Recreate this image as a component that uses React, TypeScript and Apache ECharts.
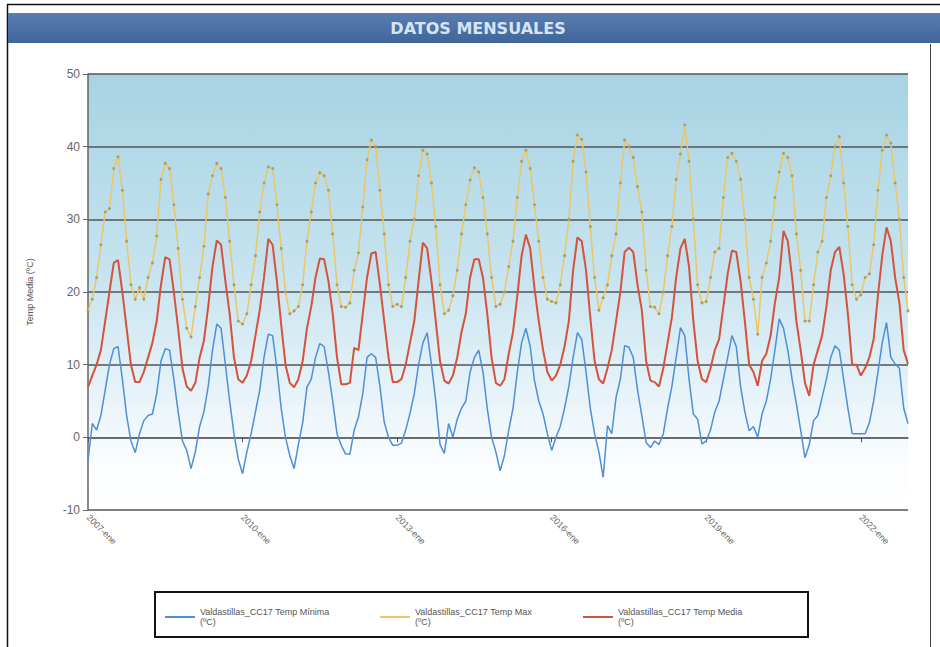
import React, { useEffect, useRef } from "react";
import * as echarts from "echarts";

// Meses y años del periodo mostrado (enero 2007 – diciembre 2022)
const MESES = ["ene", "feb", "mar", "abr", "may", "jun", "jul", "ago", "sep", "oct", "nov", "dic"];
const ANIOS = [2007, 2008, 2009, 2010, 2011, 2012, 2013, 2014, 2015, 2016, 2017, 2018, 2019, 2020, 2021, 2022];
const CATEGORIAS = ANIOS.flatMap((a) => MESES.map((m) => `${a}-${m}`));

const NOMBRE_MIN = "Valdastillas_CC17 Temp Mínima (ºC)";
const NOMBRE_MAX = "Valdastillas_CC17 Temp Max (ºC)";
const NOMBRE_MEDIA = "Valdastillas_CC17 Temp Media (ºC)";

// Temperatura máxima mensual (ºC), una fila por año
const TEMP_MAX = [
  17.4, 19, 22, 26.5, 31, 31.5, 37, 38.6, 34, 27, 21, 19,
  20.6, 19, 22, 24, 27.7, 35.5, 37.7, 37, 32, 26, 19, 15,
  13.8, 18, 22, 26.3, 33.5, 36, 37.7, 37, 33, 27, 21, 16,
  15.6, 17, 21, 25, 31, 35, 37.2, 37, 32, 26, 20, 17,
  17.4, 18, 21, 27, 31, 35, 36.4, 36, 34, 28, 21, 18,
  17.9, 18.5, 23, 25.4, 31.7, 38.2, 40.9, 40, 34, 28, 21, 18,
  18.3, 18, 22, 27, 30, 36, 39.5, 39, 35, 29, 21, 17,
  17.5, 19.5, 23, 28, 32, 35.4, 37.1, 36.5, 33, 28, 22, 18,
  18.3, 20, 23.5, 27, 33, 38, 39.5, 37, 32, 27, 22, 19,
  18.7, 18.5, 21, 25, 30, 38, 41.6, 41, 36.5, 29, 22, 17.5,
  19.2, 21, 25, 28, 35, 40.9, 40, 38.5, 34.5, 31, 23, 18,
  17.9, 17, 20, 25, 29, 35.5, 39, 43, 38, 30, 21, 18.5,
  18.7, 22, 25.5, 26, 33, 38.5, 39.1, 38, 35.5, 30, 22, 19,
  14.2, 22, 24, 27, 33, 36.5, 39.1, 38.5, 36, 28, 23, 16,
  16, 21, 25.5, 27, 33, 36, 40, 41.4, 35, 29, 21, 19,
  19.6, 22, 22.5, 26.5, 34, 39.5, 41.6, 40.5, 35, 30, 22, 17.4,
];

// Temperatura media mensual (ºC)
const TEMP_MEDIA = [
  6.9, 8.5, 10, 12, 16, 20, 24, 24.4, 20, 15, 10, 7.6,
  7.6, 9, 11, 13, 16, 21, 24.8, 24.5, 20, 15, 9.5, 7,
  6.4, 7.5, 11, 13.3, 18, 23.5, 27.1, 26.5, 21.5, 17, 11, 8,
  7.5, 8.5, 10.5, 14, 17.5, 22, 27.3, 26.5, 21.5, 15.5, 10, 7.5,
  6.9, 8, 10.5, 15, 18, 22, 24.6, 24.5, 21.5, 17, 11, 7.3,
  7.3, 7.5, 12.3, 12, 17, 22, 25.3, 25.5, 21, 16, 11, 7.6,
  7.6, 8, 10, 13, 16, 21.5, 26.8, 26, 21.5, 16, 10.5, 7.8,
  7.4, 8.5, 11, 14.5, 17, 22, 24.5, 24.5, 22, 17, 11, 7.5,
  7.1, 8, 11.5, 14.5, 19.5, 25, 27.9, 26, 20.5, 16, 12, 9,
  7.8, 8.5, 10, 12.5, 16, 23, 27.5, 27, 23, 16.5, 10.5, 8,
  7.4, 9.5, 12, 16, 20, 25.5, 26.1, 25.5, 21, 17.5, 10.5, 7.8,
  7.6, 7, 9.5, 13, 16.5, 22, 26, 27.3, 23.5, 16, 10.5, 8,
  7.6, 9.5, 12, 13.5, 18, 22.5, 25.7, 25.5, 21.5, 16, 10, 9,
  7.1, 10.5, 11.5, 14, 18.5, 22, 28.4, 27, 22, 16, 12, 7.5,
  5.7, 10, 12, 14, 18, 23, 25.5, 26.2, 22.5, 17, 10, 10,
  8.5, 9.5, 11, 13.5, 19.5, 25, 28.9, 27, 22, 18.5, 12, 10.1,
];

// Temperatura mínima mensual (ºC)
const TEMP_MIN = [
  -3.2, 1.9, 1.0, 3, 6.5, 10, 12.2, 12.5, 8, 3, -0.5, -2.1,
  0.5, 2.3, 3, 3.2, 6, 10.5, 12.2, 12, 8, 3.5, -0.5, -1.8,
  -4.3, -2, 1.5, 3.5, 7, 12, 15.6, 15, 10, 5, 0.5, -3,
  -5, -2, 0.5, 3.5, 6.5, 11, 14.2, 14, 9.5, 4, 0, -2.5,
  -4.3, -1, 2, 6.9, 8, 11, 12.9, 12.5, 9, 5, 0.5, -1.1,
  -2.3, -2.3, 1, 2.8, 6, 11, 11.5, 11, 7, 2.1, 0, -1.1,
  -1.1, -0.8, 1, 3.3, 6, 10, 13, 14.4, 10, 5, -1, -2.2,
  1.9, 0, 2.5, 4, 5, 9, 11, 12, 9, 4, 0, -2,
  -4.6, -2.5, 1, 4, 9, 13, 15, 12.5, 7.8, 5, 3.2, 0.5,
  -1.8, 0, 1.5, 4, 7, 11, 14.4, 13.5, 9, 4, 0.5, -2,
  -5.5, 1.6, 0.5, 5.5, 8, 12.6, 12.4, 11, 6.5, 3, -0.7, -1.4,
  -0.5, -1, 0.5, 4, 7, 11, 15.1, 14, 8, 3.2, 2.5, -0.9,
  -0.5, 1, 3.5, 5, 8, 11, 14, 12.5, 7, 3.5, 0.9, 1.5,
  0, 3.2, 5, 8, 12, 16.3, 15, 12, 8, 4.6, 1, -2.8,
  -1, 2.3, 3, 5.5, 8, 11, 12.6, 12, 8, 4, 0.5, 0.5,
  0.5, 0.5, 2, 5, 9, 13, 15.8, 11, 10.1, 9.5, 4, 1.9,
];

const COLOR_MIN = "#4f8fd6";
const COLOR_MAX = "#ecc664";
const COLOR_MEDIA = "#d5533a";

// Una etiqueta cada tres años, siempre en enero
const cadaTresAnios = (idx: number) => idx % 36 === 0;

const leyenda = (nombre: string, left: number, color: string) => ({
  data: [nombre],
  left,
  top: 602,
  orient: "horizontal",
  icon: "rect",
  itemWidth: 30,
  itemHeight: 2,
  itemGap: 4,
  itemStyle: { color },
  formatter: (n: string) => n.replace(" (ºC)", "\n(ºC)"),
  textStyle: { fontSize: 9, color: "#555", fontFamily: "Liberation Sans, Arial", lineHeight: 10 },
});

export default function App() {
  const ref = useRef<HTMLDivElement>(null);

  useEffect(() => {
    if (!ref.current) return;
    const chart = echarts.init(ref.current, undefined, { renderer: "svg" });
    chart.setOption({
      animation: false,
      backgroundColor: "#ffffff",
      textStyle: { fontFamily: "Liberation Sans, Arial, sans-serif" },
      graphic: [
        { type: "line", shape: { x1: 7, y1: 4.5, x2: 940, y2: 4.5 }, style: { stroke: "#111", lineWidth: 1.5 } },
        { type: "line", shape: { x1: 7.5, y1: 4, x2: 7.5, y2: 647 }, style: { stroke: "#111", lineWidth: 1.5 } },
        { type: "line", shape: { x1: 930.5, y1: 44, x2: 930.5, y2: 647 }, style: { stroke: "#444", lineWidth: 1 } },
        {
          type: "rect",
          shape: { x: 8, y: 13, width: 932, height: 30 },
          style: {
            fill: new echarts.graphic.LinearGradient(0, 0, 0, 1, [
              { offset: 0, color: "#5a7db0" },
              { offset: 1, color: "#40659a" },
            ]),
          },
        },
        {
          type: "text",
          x: 478,
          y: 28,
          style: {
            text: "DATOS MENSUALES",
            fill: "#d3e4f5",
            font: "bold 16px 'DejaVu Sans', Verdana, sans-serif",
            align: "center",
            verticalAlign: "middle",
          },
        },
        {
          type: "rect",
          shape: { x: 155, y: 592, width: 653, height: 45 },
          style: { fill: "none", stroke: "#111", lineWidth: 2 },
        },
      ],
      legend: [
        leyenda(NOMBRE_MIN, 160, COLOR_MIN),
        leyenda(NOMBRE_MAX, 375, COLOR_MAX),
        leyenda(NOMBRE_MEDIA, 578, COLOR_MEDIA),
      ],
      grid: {
        left: 88,
        right: 32,
        top: 74,
        bottom: 137,
        show: true,
        borderWidth: 0,
        backgroundColor: new echarts.graphic.LinearGradient(0, 0, 0, 1, [
          { offset: 0, color: "#a7d3e3" },
          { offset: 0.45, color: "#c6e3ef" },
          { offset: 0.75, color: "#e9f4fa" },
          { offset: 0.9, color: "#fbfdff" },
          { offset: 1, color: "#ffffff" },
        ]),
      },
      xAxis: {
        type: "category",
        data: CATEGORIAS,
        boundaryGap: false,
        axisLine: { lineStyle: { color: "#666", width: 1.5 } },
        axisTick: { interval: cadaTresAnios, length: 5, lineStyle: { color: "#555" } },
        axisLabel: {
          interval: cadaTresAnios,
          rotate: -45,
          fontSize: 9,
          color: "#666",
          margin: 6,
        },
        splitLine: { show: false },
      },
      yAxis: {
        type: "value",
        min: -10,
        max: 50,
        interval: 10,
        name: "Temp Media (ºC)",
        nameLocation: "middle",
        nameGap: 54,
        nameTextStyle: { fontSize: 9, color: "#555" },
        axisLine: { show: true, lineStyle: { color: "#666", width: 1.5 } },
        axisTick: { show: true, length: 5, lineStyle: { color: "#666" } },
        axisLabel: { fontSize: 12, color: "#666", margin: 8 },
        splitLine: { lineStyle: { color: "#555", width: 1.5 } },
      },
      series: [
        {
          name: NOMBRE_MAX,
          type: "line",
          data: TEMP_MAX,
          z: 2,
          symbol: "circle",
          symbolSize: 3,
          showSymbol: true,
          showAllSymbol: true,
          lineStyle: { color: COLOR_MAX, width: 1.5 },
          itemStyle: { color: "#a3a070", borderWidth: 0 },
        },
        {
          name: NOMBRE_MIN,
          type: "line",
          data: TEMP_MIN,
          z: 3,
          showSymbol: false,
          lineStyle: { color: COLOR_MIN, width: 1.5 },
          itemStyle: { color: COLOR_MIN },
        },
        {
          name: NOMBRE_MEDIA,
          type: "line",
          data: TEMP_MEDIA,
          z: 4,
          showSymbol: false,
          lineStyle: { color: COLOR_MEDIA, width: 2 },
          itemStyle: { color: COLOR_MEDIA },
        },
      ],
    });
    return () => chart.dispose();
  }, []);

  return <div ref={ref} style={{ width: 940, height: 647, position: "absolute", left: 0, top: 0 }} />;
}
